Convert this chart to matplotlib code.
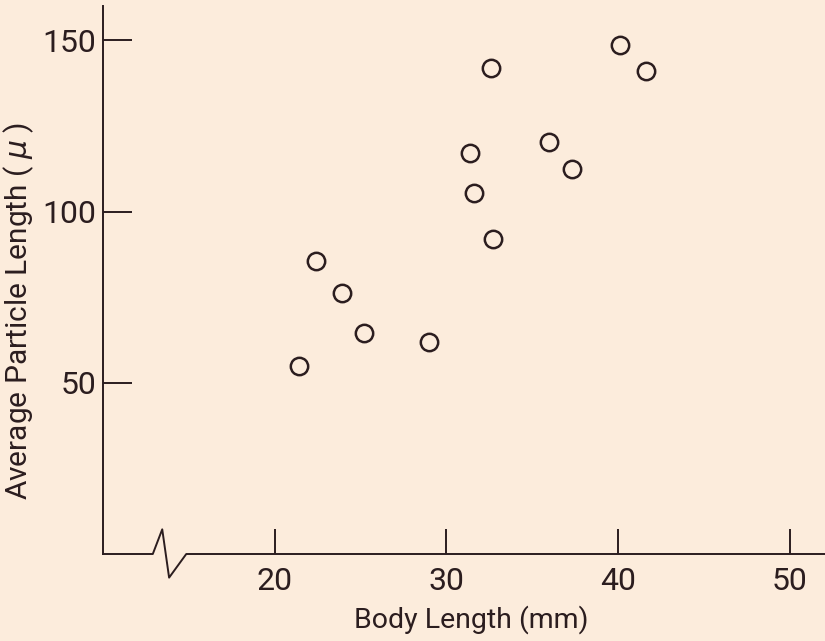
import matplotlib
matplotlib.use('Agg')
import matplotlib.pyplot as plt
from matplotlib.lines import Line2D

plt.rcParams['font.family'] = ['Roboto', 'DejaVu Sans']
plt.rcParams['mathtext.fontset'] = 'dejavusans'

# body length (mm) vs average particle length (microns)
body_length = [21.4, 22.4, 23.9, 25.2, 29.0, 31.4, 31.6, 32.6, 32.7, 36.0, 37.3, 40.1, 41.6]
particle_length = [55.0, 85.5, 76.3, 64.5, 62.0, 117.0, 105.3, 141.8, 92.1, 120.2, 112.3, 148.5, 140.9]

x_ticks = [20, 30, 40, 50]
y_ticks = [50, 100, 150]

ink = '#2b1d1f'
bg = '#fcecdc'

fig = plt.figure(figsize=(8.25, 6.41), dpi=100, facecolor=bg)
ax = fig.add_axes([103 / 825, 87 / 641, 722 / 825, 548 / 641])
ax.set_facecolor(bg)

ax.plot(body_length, particle_length, linestyle='none', marker='o', markersize=12.5,
        markerfacecolor='none', markeredgecolor=ink, markeredgewidth=1.8)

ax.set_xlim(10, 52.05)
ax.set_ylim(0, 160)

for side in ['top', 'right', 'bottom']:
    ax.spines[side].set_visible(False)
ax.spines['left'].set_color(ink)
ax.spines['left'].set_linewidth(1.4)

# x axis drawn by hand so it can carry the break mark
brk = [10, 12.9, 13.45, 13.85, 14.85, 52.05]
brk_y = [0, 0, 7.2, -6.9, 0, 0]
ax.add_line(Line2D(brk, brk_y, color=ink, lw=1.4, clip_on=False))

ax.set_xticks(x_ticks)
ax.set_yticks(y_ticks)
ax.tick_params(axis='x', direction='in', length=18, width=1.4, color=ink,
               labelsize=23, labelcolor=ink, pad=9)
ax.tick_params(axis='y', direction='in', length=21, width=1.4, color=ink,
               labelsize=23, labelcolor=ink, pad=5)

ax.set_xlabel('Body Length (mm)', fontsize=20.5, color=ink)
ax.set_ylabel('Average Particle Length ( $\\mu$ )', fontsize=21.5, color=ink)
ax.xaxis.set_label_coords(0.51, -0.094)
ax.yaxis.set_label_coords(-0.093, 0.443)

fig.savefig('out.png', dpi=100, facecolor=bg)
